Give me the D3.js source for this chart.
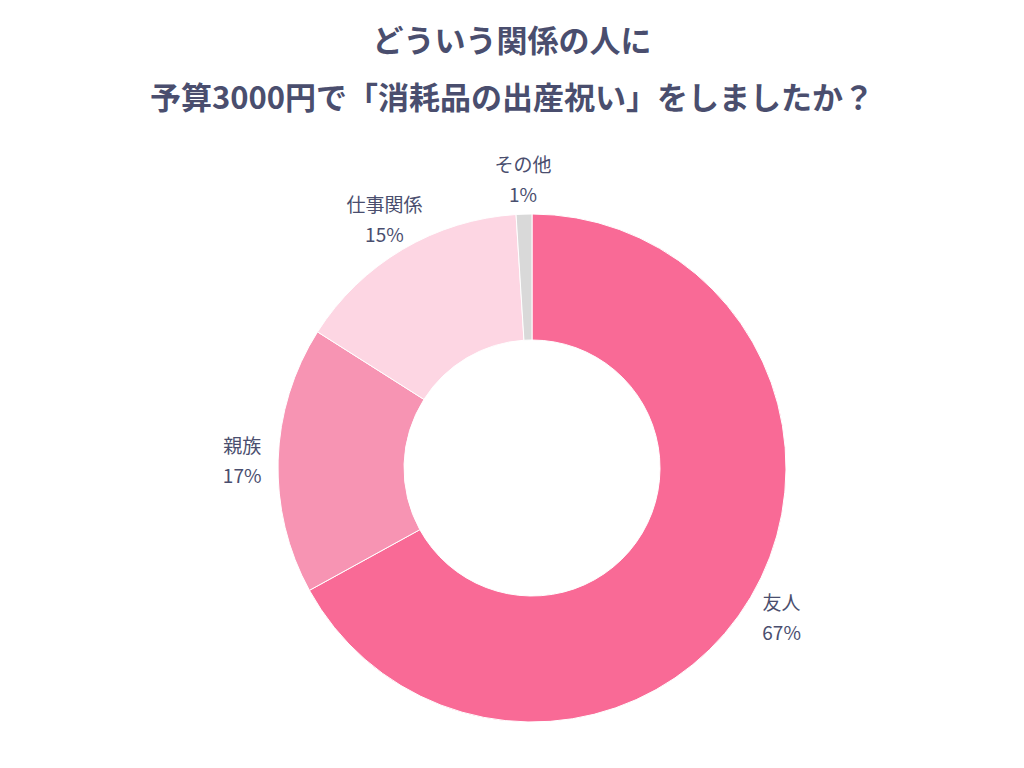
<!DOCTYPE html>
<html><head><meta charset="utf-8">
<script src="https://cdn.jsdelivr.net/npm/d3@7"></script>
<style>body{margin:0;background:#fff}</style></head>
<body><svg id="c" width="1024" height="768"></svg>
<script>
const categories = ["友人","親族","仕事関係","その他"];
const values = [67,17,15,1];
const colors = ["#f96a96","#f794b3","#fdd6e3","#d9d9d9"];
const titleLines = ["どういう関係の人に","予算3000円で「消耗品の出産祝い」をしましたか？"];

const svg = d3.select("#c");
const font = "'Noto Sans CJK JP', sans-serif";
svg.selectAll("text.t").data(titleLines).join("text")
  .attr("x",512).attr("y",(d,i)=>52+i*57).attr("text-anchor","middle")
  .attr("font-family",font).attr("font-weight",700).attr("font-size",31)
  .attr("fill","#4a4e6e").text(d=>d);

const cx=532, cy=468, R=254, r=128;
const pie = d3.pie().sort(null).value(d=>d)(values);
const arc = d3.arc().innerRadius(r).outerRadius(R);
const g = svg.append("g").attr("transform",`translate(${cx},${cy})`);
g.selectAll("path").data(pie).join("path").attr("d",arc)
  .attr("fill",(d,i)=>colors[i]).attr("stroke","#fff").attr("stroke-width",1);
const la = d3.arc().innerRadius(290).outerRadius(290);
const lab = g.selectAll("g.l").data(pie).join("g")
  .attr("transform",d=>{let [x,y]=la.centroid(d); return `translate(${x},${y})`;});
lab.append("text").attr("y",-6).attr("text-anchor","middle").attr("font-family",font)
  .attr("font-size",19).attr("fill","#4a4e6e").text((d,i)=>categories[i]);
lab.append("text").attr("y",24).attr("text-anchor","middle").attr("font-family",font)
  .attr("font-size",19).attr("fill","#4a4e6e").text(d=>d.data+"%");
</script></body></html>
